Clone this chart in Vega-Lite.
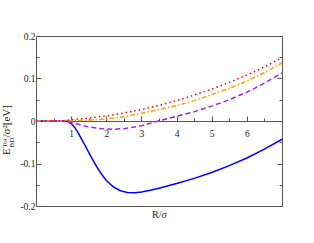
{
  "$schema": "https://vega.github.io/schema/vega-lite/v6.json",
  "width": 246,
  "height": 170,
  "autosize": {"type": "none"},
  "padding": {"left": 36, "top": 36, "right": 32, "bottom": 37},
  "background": "white",
  "config": {
    "view": {"stroke": "#555", "strokeWidth": 1},
    "font": "Liberation Serif",
    "axis": {"labelFont": "Liberation Serif", "titleFont": "Liberation Serif", "grid": false, "tickColor": "#555", "domainColor": "#555", "labelColor": "#222", "titleColor": "#222", "labelFontSize": 9.5, "titleFontSize": 10, "titleFontWeight": "normal"}
  },
  "datasets": {
    "curves": [
      {"s": "blue", "R": 0, "E": 0}, {"s": "blue", "R": 0.5, "E": 0}, {"s": "blue", "R": 0.8, "E": 0},
      {"s": "blue", "R": 0.9, "E": -0.001}, {"s": "blue", "R": 1.0, "E": -0.006}, {"s": "blue", "R": 1.1, "E": -0.015},
      {"s": "blue", "R": 1.2, "E": -0.028}, {"s": "blue", "R": 1.3, "E": -0.043}, {"s": "blue", "R": 1.4, "E": -0.058},
      {"s": "blue", "R": 1.5, "E": -0.074}, {"s": "blue", "R": 1.6, "E": -0.089}, {"s": "blue", "R": 1.7, "E": -0.104},
      {"s": "blue", "R": 1.8, "E": -0.117}, {"s": "blue", "R": 1.9, "E": -0.129}, {"s": "blue", "R": 2.0, "E": -0.140},
      {"s": "blue", "R": 2.2, "E": -0.155}, {"s": "blue", "R": 2.4, "E": -0.164}, {"s": "blue", "R": 2.6, "E": -0.168},
      {"s": "blue", "R": 2.8, "E": -0.169}, {"s": "blue", "R": 3.0, "E": -0.167}, {"s": "blue", "R": 3.25, "E": -0.163},
      {"s": "blue", "R": 3.5, "E": -0.158}, {"s": "blue", "R": 4.0, "E": -0.147}, {"s": "blue", "R": 4.5, "E": -0.135},
      {"s": "blue", "R": 5.0, "E": -0.121}, {"s": "blue", "R": 5.5, "E": -0.105}, {"s": "blue", "R": 6.0, "E": -0.087},
      {"s": "blue", "R": 6.5, "E": -0.066}, {"s": "blue", "R": 7.0, "E": -0.043},

      {"s": "purple", "R": 0, "E": 0}, {"s": "purple", "R": 0.5, "E": 0}, {"s": "purple", "R": 0.8, "E": -0.001},
      {"s": "purple", "R": 1.0, "E": -0.004}, {"s": "purple", "R": 1.25, "E": -0.009}, {"s": "purple", "R": 1.5, "E": -0.014},
      {"s": "purple", "R": 1.75, "E": -0.017}, {"s": "purple", "R": 2.0, "E": -0.019}, {"s": "purple", "R": 2.25, "E": -0.0192},
      {"s": "purple", "R": 2.5, "E": -0.018}, {"s": "purple", "R": 2.75, "E": -0.015}, {"s": "purple", "R": 3.0, "E": -0.011},
      {"s": "purple", "R": 3.25, "E": -0.0055}, {"s": "purple", "R": 3.5, "E": 0.0005}, {"s": "purple", "R": 3.75, "E": 0.0058},
      {"s": "purple", "R": 4.0, "E": 0.011}, {"s": "purple", "R": 4.5, "E": 0.022}, {"s": "purple", "R": 5.0, "E": 0.035},
      {"s": "purple", "R": 5.5, "E": 0.050}, {"s": "purple", "R": 6.0, "E": 0.068}, {"s": "purple", "R": 6.5, "E": 0.089},
      {"s": "purple", "R": 7.0, "E": 0.113},

      {"s": "orange", "R": 0, "E": 0}, {"s": "orange", "R": 0.7, "E": 0}, {"s": "orange", "R": 1.0, "E": 0.001},
      {"s": "orange", "R": 1.5, "E": 0.002}, {"s": "orange", "R": 2.0, "E": 0.005}, {"s": "orange", "R": 2.5, "E": 0.010},
      {"s": "orange", "R": 3.0, "E": 0.018}, {"s": "orange", "R": 3.5, "E": 0.027}, {"s": "orange", "R": 4.0, "E": 0.036},
      {"s": "orange", "R": 4.5, "E": 0.048}, {"s": "orange", "R": 5.0, "E": 0.062}, {"s": "orange", "R": 5.5, "E": 0.077},
      {"s": "orange", "R": 6.0, "E": 0.094}, {"s": "orange", "R": 6.5, "E": 0.114}, {"s": "orange", "R": 7.0, "E": 0.137},

      {"s": "red", "R": 0, "E": 0}, {"s": "red", "R": 0.6, "E": 0}, {"s": "red", "R": 0.8, "E": 0.001},
      {"s": "red", "R": 1.0, "E": 0.003}, {"s": "red", "R": 1.5, "E": 0.007}, {"s": "red", "R": 2.0, "E": 0.012},
      {"s": "red", "R": 2.5, "E": 0.019}, {"s": "red", "R": 3.0, "E": 0.027}, {"s": "red", "R": 3.5, "E": 0.037},
      {"s": "red", "R": 4.0, "E": 0.048}, {"s": "red", "R": 4.5, "E": 0.061}, {"s": "red", "R": 5.0, "E": 0.075},
      {"s": "red", "R": 5.5, "E": 0.091}, {"s": "red", "R": 6.0, "E": 0.108}, {"s": "red", "R": 6.5, "E": 0.127},
      {"s": "red", "R": 7.0, "E": 0.149}
    ]
  },
  "data": {"name": "curves"},
  "resolve": {"axis": {"x": "independent", "y": "independent"}},
  "layer": [
    {
      "transform": [{"filter": "datum.s == 'blue'"}],
      "mark": {"type": "line", "color": "#0000ff", "strokeWidth": 1.5},
      "encoding": {
        "x": {"field": "R", "type": "quantitative", "scale": {"domain": [0, 7], "nice": false, "zero": false},
          "axis": {"orient": "bottom", "offset": -85, "values": [1, 2, 3, 4, 5, 6], "tickSize": -5, "labelPadding": 12, "domain": true, "title": null, "labelFlush": false}},
        "y": {"field": "E", "type": "quantitative", "scale": {"domain": [-0.2, 0.2], "nice": false, "zero": false},
          "axis": {"orient": "left", "values": [-0.2, -0.1, 0, 0.1, 0.2], "tickSize": -5, "labelPadding": 6, "domain": false, "title": null, "labelFlush": false,
            "labelExpr": "datum.value == 0 ? '0' : (datum.value < 0 ? '-' : '') + format(abs(datum.value), '.1f')"}}
      }
    },
    {
      "transform": [{"filter": "datum.s == 'purple'"}],
      "mark": {"type": "line", "color": "#a020f0", "strokeWidth": 1.5, "strokeDash": [5, 3]},
      "encoding": {
        "x": {"field": "R", "type": "quantitative",
          "axis": {"orient": "bottom", "offset": -85, "values": [0.5, 1.5, 2.5, 3.5, 4.5, 5.5, 6.5], "tickSize": -3, "labels": false, "domain": false, "title": null}},
        "y": {"field": "E", "type": "quantitative",
          "axis": {"orient": "left", "values": [-0.15, -0.05, 0.05, 0.15], "tickSize": -3, "labels": false, "domain": false, "title": null}}
      }
    },
    {
      "transform": [{"filter": "datum.s == 'orange'"}],
      "mark": {"type": "line", "color": "#ffa500", "strokeWidth": 1.5, "strokeDash": [5, 2, 1.5, 2]},
      "encoding": {
        "x": {"field": "R", "type": "quantitative",
          "axis": {"orient": "bottom", "offset": 0, "ticks": false, "labels": false, "domain": false, "title": "R/σ", "titlePadding": 3}},
        "y": {"field": "E", "type": "quantitative",
          "axis": {"orient": "right", "values": [-0.2, -0.1, 0, 0.1, 0.2], "tickSize": -5, "labels": false, "domain": false, "title": null}}
      }
    },
    {
      "transform": [{"filter": "datum.s == 'red'"}],
      "mark": {"type": "line", "color": "#ff0000", "strokeWidth": 1.5, "strokeDash": [1.5, 3]},
      "encoding": {
        "x": {"field": "R", "type": "quantitative", "axis": null},
        "y": {"field": "E", "type": "quantitative",
          "axis": {"orient": "right", "values": [-0.15, -0.05, 0.05, 0.15], "tickSize": -3, "labels": false, "domain": false, "title": null}}
      }
    },
    {
      "data": {"values": [{}]},
      "mark": {"type": "text", "text": "E", "angle": 270, "align": "left", "baseline": "alphabetic", "font": "Liberation Serif", "fontSize": 11, "color": "#222"},
      "encoding": {"x": {"datum": -0.74, "type": "quantitative", "axis": null}, "y": {"datum": -0.08, "type": "quantitative", "axis": null}}
    },
    {
      "data": {"values": [{}]},
      "mark": {"type": "text", "text": "Tot", "angle": 270, "align": "left", "baseline": "alphabetic", "font": "Liberation Serif", "fontSize": 7, "color": "#222"},
      "encoding": {"x": {"datum": -0.839, "type": "quantitative", "axis": null}, "y": {"datum": -0.0624, "type": "quantitative", "axis": null}}
    },
    {
      "data": {"values": [{}]},
      "mark": {"type": "text", "text": "BD", "angle": 270, "align": "left", "baseline": "alphabetic", "font": "Liberation Serif", "fontSize": 7, "color": "#222"},
      "encoding": {"x": {"datum": -0.626, "type": "quantitative", "axis": null}, "y": {"datum": -0.0624, "type": "quantitative", "axis": null}}
    },
    {
      "data": {"values": [{}]},
      "mark": {"type": "text", "text": "/σ²[eV]", "angle": 270, "align": "left", "baseline": "alphabetic", "font": "Liberation Serif", "fontSize": 11, "color": "#222"},
      "encoding": {"x": {"datum": -0.74, "type": "quantitative", "axis": null}, "y": {"datum": -0.0388, "type": "quantitative", "axis": null}}
    }
  ]
}
